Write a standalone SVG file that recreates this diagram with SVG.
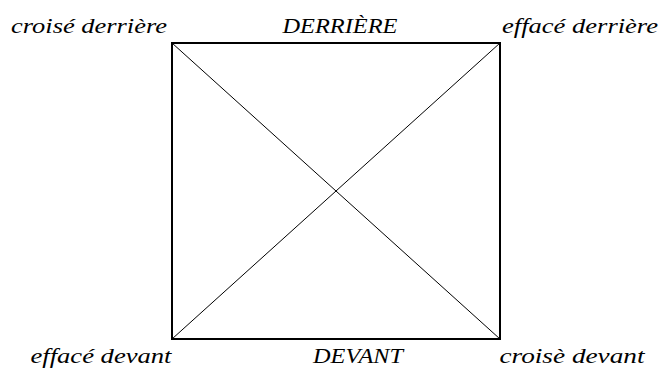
<svg xmlns="http://www.w3.org/2000/svg" width="662" height="369" viewBox="0 0 662 369">
<style>
text{font-family:"Liberation Serif","Times New Roman",serif;font-style:italic;font-size:22px;fill:#000;text-anchor:middle}
.sq{fill:none;stroke:#000;stroke-width:2}
.dg{stroke:#000;stroke-width:1}
</style>
<rect width="662" height="369" fill="#fff"/>
<g id="square"><rect class="sq" x="172" y="43" width="328" height="296"/></g>
<g id="connectors">
<line class="dg" x1="172" y1="43" x2="500" y2="339"/>
<line class="dg" x1="500" y1="43" x2="172" y2="339"/>
</g>
<g id="croise-derriere"><text x="89" y="33" textLength="156" lengthAdjust="spacingAndGlyphs">croisé derrière</text></g>
<g id="derriere"><text x="340" y="33" textLength="115" lengthAdjust="spacingAndGlyphs">DERRIÈRE</text></g>
<g id="efface-derriere"><text x="580" y="33" textLength="156" lengthAdjust="spacingAndGlyphs">effacé derrière</text></g>
<g id="efface-devant"><text x="101" y="363" textLength="141" lengthAdjust="spacingAndGlyphs">effacé devant</text></g>
<g id="devant"><text x="358" y="363" textLength="90" lengthAdjust="spacingAndGlyphs">DEVANT</text></g>
<g id="croise-devant"><text x="572" y="363" textLength="145" lengthAdjust="spacingAndGlyphs">croisè devant</text></g>
</svg>
